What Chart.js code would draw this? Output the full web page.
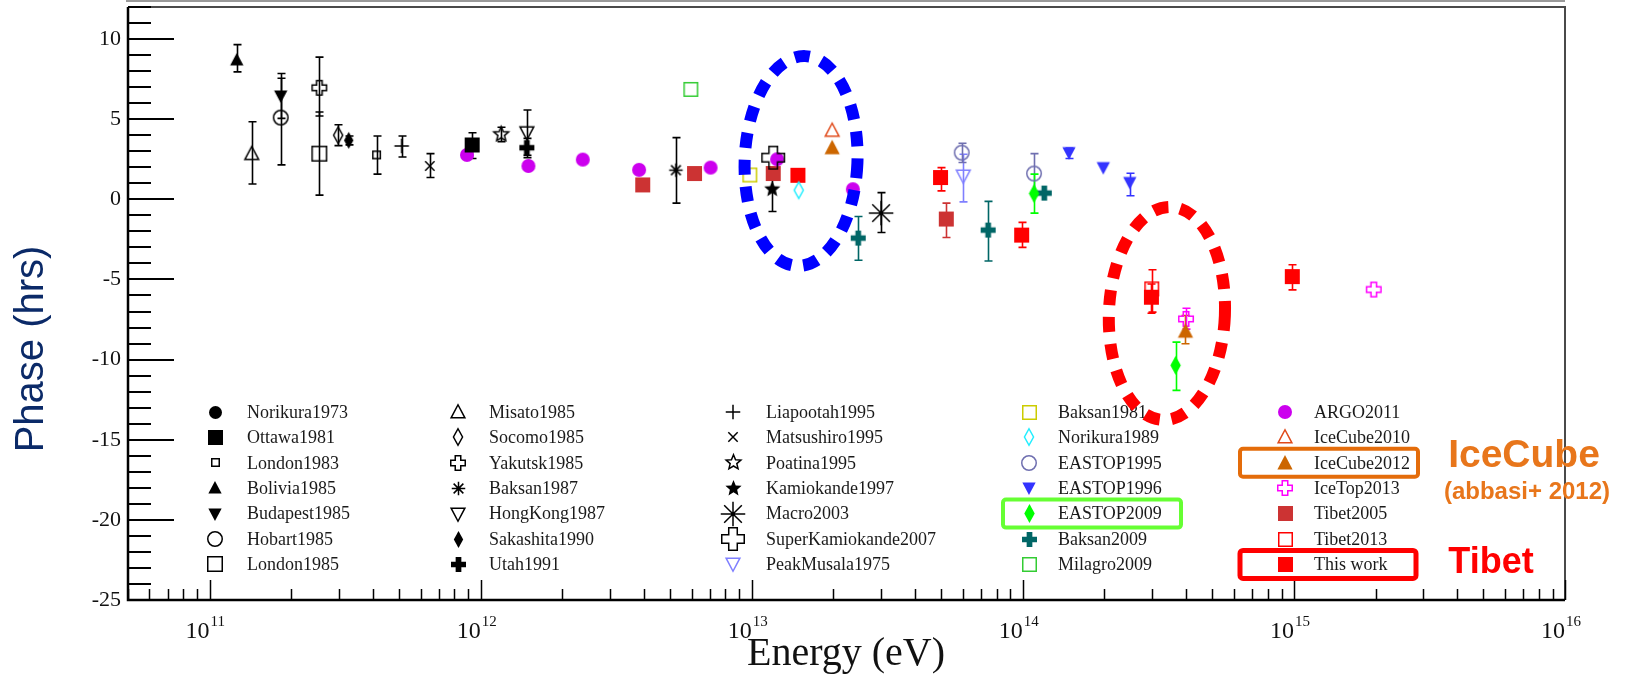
<!DOCTYPE html>
<html>
<head>
<meta charset="utf-8">
<title>Phase vs Energy</title>
<script src="https://cdn.jsdelivr.net/npm/chart.js@4.4.1/dist/chart.umd.min.js"></script>
<style>
  html, body { margin: 0; padding: 0; background: #fff; }
  #wrap { width: 1630px; height: 678px; position: relative; }
</style>
</head>
<body>
<div id="wrap"><canvas id="grafico"></canvas></div>
<script>
// ======================
// Phase of the first harmonic vs primary energy
// ======================

// Experiments, in legend order (5 columns x 7 rows)
const seriesNames = [
  "Norikura1973", "Ottawa1981", "London1983", "Bolivia1985", "Budapest1985", "Hobart1985", "London1985",
  "Misato1985", "Socomo1985", "Yakutsk1985", "Baksan1987", "HongKong1987", "Sakashita1990", "Utah1991",
  "Liapootah1995", "Matsushiro1995", "Poatina1995", "Kamiokande1997", "Macro2003", "SuperKamiokande2007", "PeakMusala1975",
  "Baksan1981", "Norikura1989", "EASTOP1995", "EASTOP1996", "EASTOP2009", "Baksan2009", "Milagro2009",
  "ARGO2011", "IceCube2010", "IceCube2012", "IceTop2013", "Tibet2005", "Tibet2013", "This work"
];

// One entry per measured point: experiment, energy (eV), phase (hrs), error bar low / high (hrs)
const pointSeries = [
  "Ottawa1981", "London1983", "Bolivia1985", "Budapest1985", "Hobart1985", "London1985",
  "Misato1985", "Socomo1985", "Yakutsk1985", "Baksan1987", "HongKong1987", "Sakashita1990", "Utah1991",
  "Liapootah1995", "Matsushiro1995", "Poatina1995", "Kamiokande1997", "Macro2003", "SuperKamiokande2007", "PeakMusala1975",
  "Baksan1981", "Norikura1989", "EASTOP1995", "EASTOP1995", "EASTOP1996", "EASTOP1996", "EASTOP1996",
  "EASTOP2009", "EASTOP2009", "Baksan2009", "Baksan2009", "Baksan2009", "Milagro2009",
  "ARGO2011", "ARGO2011", "ARGO2011", "ARGO2011", "ARGO2011", "ARGO2011", "ARGO2011",
  "IceCube2010", "IceCube2012", "IceCube2012", "IceTop2013", "IceTop2013",
  "Tibet2005", "Tibet2005", "Tibet2005", "Tibet2005", "Tibet2013",
  "This work", "This work", "This work", "This work", "This work"
];
const pointEnergy = [
  9.3e11, 4.13e11, 1.26e11, 1.83e11, 1.83e11, 2.54e11,
  1.43e11, 2.98e11, 2.54e11, 5.25e12, 1.48e12, 3.26e11, 1.48e12,
  5.11e11, 6.49e11, 1.19e12, 1.19e13, 3.0e13, 1.2e13, 6.03e13,
  9.84e12, 1.49e13, 5.95e13, 1.1e14, 1.48e14, 1.98e14, 2.48e14,
  1.1e14, 3.66e14, 2.47e13, 7.45e13, 1.2e14, 5.96e12,
  8.9e11, 1.5e12, 2.38e12, 3.84e12, 7.05e12, 1.24e13, 2.36e13,
  1.98e13, 1.98e13, 3.98e14, 4.0e14, 1.97e15,
  3.96e12, 6.15e12, 1.2e13, 5.22e13, 2.99e14,
  1.48e13, 4.97e13, 9.9e13, 2.98e14, 9.86e14
];
const pointPhase = [
  3.39, 2.77, 8.7, 6.45, 5.1, 2.85,
  2.85, 4.0, 6.96, 1.82, 4.16, 3.68, 3.22,
  3.33, 2.08, 4.06, 0.63, -0.86, 2.6, 1.46,
  1.52, 0.57, 2.91, 1.61, 2.91, 1.98, 1.05,
  0.36, -10.36, -2.42, -1.92, 0.39, 6.86,
  2.77, 2.08, 2.48, 1.84, 1.98, 2.5, 0.63,
  4.3, 3.22, -8.23, -7.46, -5.63,
  0.9, 1.61, 1.61, -1.23, -5.59,
  1.5, 1.36, -2.23, -6.11, -4.82
];
const pointErrLow = [
  2.55, 1.57, 7.95, 5.05, 2.15, 0.26,
  0.96, 3.35, 5.2, -0.24, 2.75, 3.4, 2.6,
  2.64, 1.36, 3.6, -0.76, -2.07, null, -0.16,
  null, null, 2.3, 0.4, 2.55, null, 0.22,
  -0.86, -11.92, -3.8, -3.85, null, null,
  null, null, null, null, null, null, null,
  null, null, -9.01, -8.1, null,
  null, null, null, -2.38, -7.04,
  null, 0.53, -3.0, -7.11, -5.65
];
const pointErrHigh = [
  4.15, 3.95, 9.65, 7.85, 7.55, 5.45,
  4.84, 4.65, 8.87, 3.85, 5.57, 3.95, 3.8,
  3.95, 2.85, 4.5, 2.0, 0.42, null, 2.81,
  null, null, 3.5, 2.85, 3.2, null, 1.63,
  1.57, -8.91, -1.07, -0.13, null, null,
  null, null, null, null, null, null, null,
  null, null, -7.25, -6.8, null,
  null, null, null, -0.24, -4.39,
  null, 1.98, -1.44, -5.28, -4.08
];

// Axis ticks
const yTickLabels = [-25, -20, -15, -10, -5, 0, 5, 10];
const xTickExponents = [11, 12, 13, 14, 15, 16];

// Marker look for every experiment
const markerStyles = {
  "Norikura1973":        { shape: "circle",   size: 13, color: "#000000", fill: true },
  "Ottawa1981":          { shape: "square",   size: 15, color: "#000000", fill: true },
  "London1983":          { shape: "square",   size: 9,  color: "#000000", fill: false },
  "Bolivia1985":         { shape: "triUp",    size: 14, color: "#000000", fill: true },
  "Budapest1985":        { shape: "triDown",  size: 14, color: "#000000", fill: true },
  "Hobart1985":          { shape: "circle",   size: 16, color: "#000000", fill: false },
  "London1985":          { shape: "square",   size: 16, color: "#000000", fill: false },
  "Misato1985":          { shape: "triUp",    size: 16, color: "#000000", fill: false },
  "Socomo1985":          { shape: "diamond",  size: 18, color: "#000000", fill: false },
  "Yakutsk1985":         { shape: "gcross",   size: 16, color: "#000000", fill: false },
  "Baksan1987":          { shape: "asterisk", size: 15, color: "#000000", fill: false },
  "HongKong1987":        { shape: "triDown",  size: 16, color: "#000000", fill: false },
  "Sakashita1990":       { shape: "diamond",  size: 17, color: "#000000", fill: true },
  "Utah1991":            { shape: "gcross",   size: 15, color: "#000000", fill: true },
  "Liapootah1995":       { shape: "plus",     size: 16, color: "#000000", fill: false },
  "Matsushiro1995":      { shape: "x",        size: 14, color: "#000000", fill: false },
  "Poatina1995":         { shape: "star",     size: 17, color: "#000000", fill: false },
  "Kamiokande1997":      { shape: "star",     size: 17, color: "#000000", fill: true },
  "Macro2003":           { shape: "asterisk", size: 26, color: "#000000", fill: false },
  "SuperKamiokande2007": { shape: "gcross",   size: 24, color: "#000000", fill: false },
  "PeakMusala1975":      { shape: "triDown",  size: 16, color: "#7f7fff", fill: false },
  "Baksan1981":          { shape: "square",   size: 15, color: "#cccc00", fill: false },
  "Norikura1989":        { shape: "diamond",  size: 18, color: "#22eeff", fill: false },
  "EASTOP1995":          { shape: "circle",   size: 16, color: "#6f6fb0", fill: false },
  "EASTOP1996":          { shape: "triDown",  size: 14, color: "#3333ff", fill: true },
  "EASTOP2009":          { shape: "diamond",  size: 19, color: "#00ff00", fill: true },
  "Baksan2009":          { shape: "gcross",   size: 15, color: "#006666", fill: true },
  "Milagro2009":         { shape: "square",   size: 15, color: "#33cc33", fill: false },
  "ARGO2011":            { shape: "circle",   size: 14, color: "#cc00ee", fill: true },
  "IceCube2010":         { shape: "triUp",    size: 16, color: "#e04a1a", fill: false },
  "IceCube2012":         { shape: "triUp",    size: 16, color: "#cc6600", fill: true },
  "IceTop2013":          { shape: "gcross",   size: 16, color: "#ff00ff", fill: false },
  "Tibet2005":           { shape: "square",   size: 15, color: "#cc3333", fill: true },
  "Tibet2013":           { shape: "square",   size: 15, color: "#ff0000", fill: false },
  "This work":           { shape: "square",   size: 15, color: "#ff0000", fill: true }
};

// Draw one marker into a small canvas, used as a Chart.js pointStyle and in the legend
function makeMarker(st) {
  const lw = 1.5;
  const pad = 3;
  const w = Math.ceil(st.size + pad * 2);
  const c = document.createElement("canvas");
  c.width = w;
  c.height = w;
  const ctx = c.getContext("2d");
  ctx.translate(w / 2, w / 2);
  ctx.strokeStyle = st.color;
  ctx.fillStyle = st.color;
  ctx.lineWidth = lw;
  const s = st.size / 2 - (st.fill ? 0 : lw / 2);
  ctx.beginPath();
  switch (st.shape) {
    case "circle":
      ctx.arc(0, 0, s, 0, Math.PI * 2);
      break;
    case "square":
      ctx.rect(-s, -s, 2 * s, 2 * s);
      break;
    case "triUp":
      ctx.moveTo(0, -s); ctx.lineTo(s * 0.95, s * 0.8); ctx.lineTo(-s * 0.95, s * 0.8); ctx.closePath();
      break;
    case "triDown":
      ctx.moveTo(0, s); ctx.lineTo(s * 0.95, -s * 0.8); ctx.lineTo(-s * 0.95, -s * 0.8); ctx.closePath();
      break;
    case "diamond":
      ctx.moveTo(0, -s); ctx.lineTo(s * 0.55, 0); ctx.lineTo(0, s); ctx.lineTo(-s * 0.55, 0); ctx.closePath();
      break;
    case "gcross": {
      const t = s * 0.38;
      ctx.moveTo(-t, -s); ctx.lineTo(t, -s); ctx.lineTo(t, -t); ctx.lineTo(s, -t);
      ctx.lineTo(s, t); ctx.lineTo(t, t); ctx.lineTo(t, s); ctx.lineTo(-t, s);
      ctx.lineTo(-t, t); ctx.lineTo(-s, t); ctx.lineTo(-s, -t); ctx.lineTo(-t, -t);
      ctx.closePath();
      break;
    }
    case "star":
      for (let i = 0; i < 10; i++) {
        const a = -Math.PI / 2 + i * Math.PI / 5;
        const r = i % 2 ? s * 0.45 : s;
        if (i === 0) ctx.moveTo(r * Math.cos(a), r * Math.sin(a));
        else ctx.lineTo(r * Math.cos(a), r * Math.sin(a));
      }
      ctx.closePath();
      break;
    case "plus":
      ctx.moveTo(-s, 0); ctx.lineTo(s, 0); ctx.moveTo(0, -s); ctx.lineTo(0, s);
      break;
    case "x": {
      const d = s * 0.75;
      ctx.moveTo(-d, -d); ctx.lineTo(d, d); ctx.moveTo(-d, d); ctx.lineTo(d, -d);
      break;
    }
    case "asterisk": {
      const d = s * 0.72;
      ctx.moveTo(-s, 0); ctx.lineTo(s, 0); ctx.moveTo(0, -s); ctx.lineTo(0, s);
      ctx.moveTo(-d, -d); ctx.lineTo(d, d); ctx.moveTo(-d, d); ctx.lineTo(d, -d);
      break;
    }
  }
  if (st.fill) ctx.fill();
  else ctx.stroke();
  if (st.shape === "asterisk") {
    ctx.beginPath();
    ctx.arc(0, 0, 2, 0, Math.PI * 2);
    ctx.fill();
  }
  return c;
}

// Build one scatter dataset per experiment
const datasets = seriesNames.map((name) => {
  const st = markerStyles[name];
  const data = [];
  pointSeries.forEach((s, i) => {
    if (s !== name) return;
    data.push({ x: pointEnergy[i], y: pointPhase[i], lo: pointErrLow[i], hi: pointErrHigh[i] });
  });
  return {
    label: name,
    data,
    pointStyle: makeMarker(st),
    pointRadius: 6,
    pointHoverRadius: 6,
    barColor: st.color,
    showLine: false
  };
});

// Vertical error bars with small end caps
const errorBars = {
  id: "errorBars",
  beforeDatasetsDraw(chart) {
    const { ctx, scales: { x, y } } = chart;
    chart.data.datasets.forEach((ds) => {
      ctx.save();
      ctx.strokeStyle = ds.barColor;
      ctx.lineWidth = 1.6;
      ds.data.forEach((p) => {
        if (p.lo == null) return;
        const px = Math.round(x.getPixelForValue(p.x)) + 0.5;
        const top = y.getPixelForValue(p.hi);
        const bot = y.getPixelForValue(p.lo);
        ctx.beginPath();
        ctx.moveTo(px, top); ctx.lineTo(px, bot);
        ctx.moveTo(px - 4, top); ctx.lineTo(px + 4, top);
        ctx.moveTo(px - 4, bot); ctx.lineTo(px + 4, bot);
        ctx.stroke();
      });
      ctx.restore();
    });
  }
};

// Frame, inward ticks, tick labels and axis titles
const rootAxes = {
  id: "rootAxes",
  beforeDatasetsDraw(chart) {
    const { ctx, chartArea: a, scales: { x, y } } = chart;
    ctx.save();

    // thin outer line above the frame
    ctx.strokeStyle = "#9a9a9a";
    ctx.lineWidth = 2;
    ctx.beginPath();
    ctx.moveTo(a.left - 2, 1); ctx.lineTo(a.right, 1);
    ctx.stroke();

    // top and right sides
    ctx.strokeStyle = "#4a4a4a";
    ctx.lineWidth = 2;
    ctx.beginPath();
    ctx.moveTo(a.left, a.top); ctx.lineTo(a.right, a.top); ctx.lineTo(a.right, a.bottom);
    ctx.stroke();

    // axis lines
    ctx.strokeStyle = "#000";
    ctx.lineWidth = 2.5;
    ctx.beginPath();
    ctx.moveTo(a.left, a.top); ctx.lineTo(a.left, a.bottom); ctx.lineTo(a.right, a.bottom);
    ctx.stroke();

    // y ticks: one per hour, long ones every 5
    ctx.lineWidth = 2;
    ctx.beginPath();
    for (let v = Math.ceil(y.min); v <= Math.floor(y.max); v++) {
      const py = Math.round(y.getPixelForValue(v));
      const len = v % 5 === 0 ? 46 : 23;
      ctx.moveTo(a.left, py); ctx.lineTo(a.left + len, py);
    }
    ctx.stroke();

    // x ticks: decades long, 2..9 short
    ctx.lineWidth = 1.5;
    ctx.beginPath();
    const e0 = Math.floor(Math.log10(x.min));
    const e1 = Math.ceil(Math.log10(x.max));
    for (let e = e0; e <= e1; e++) {
      for (let m = 1; m <= 9; m++) {
        const v = m * Math.pow(10, e);
        if (v < x.min * 0.999 || v > x.max * 1.001) continue;
        const px = Math.round(x.getPixelForValue(v)) + 0.5;
        const len = m === 1 ? 20 : 11;
        ctx.moveTo(px, a.bottom); ctx.lineTo(px, a.bottom - len);
      }
    }
    ctx.stroke();

    // tick labels
    ctx.fillStyle = "#111";
    ctx.font = "22px 'Liberation Serif'";
    ctx.textAlign = "right";
    ctx.textBaseline = "middle";
    yTickLabels.forEach((v) => {
      ctx.fillText(String(v), a.left - 7, y.getPixelForValue(v));
    });
    ctx.textBaseline = "alphabetic";
    xTickExponents.forEach((e) => {
      const px = x.getPixelForValue(Math.pow(10, e));
      ctx.font = "24px 'Liberation Serif'";
      ctx.textAlign = "right";
      ctx.fillText("10", px, a.bottom + 38);
      ctx.font = "15px 'Liberation Serif'";
      ctx.textAlign = "left";
      ctx.fillText(String(e), px + 1, a.bottom + 26);
    });

    // axis titles
    ctx.font = "40px 'Liberation Serif'";
    ctx.textAlign = "center";
    ctx.fillText("Energy (eV)", 846, a.bottom + 65);

    ctx.save();
    ctx.translate(32, 349);
    ctx.rotate(-Math.PI / 2);
    ctx.fillStyle = "#0b2a68";
    ctx.font = "40px 'Liberation Sans'";
    ctx.textBaseline = "middle";
    ctx.fillText("Phase (hrs)", 0, 0);
    ctx.restore();

    ctx.restore();
  }
};

// Legend grid inside the frame
const legendMarkerX = [215, 458, 733, 1029, 1285];
const legendTextX = [247, 489, 766, 1058, 1314];
const legendRowY0 = 412;
const legendRowStep = 25.4;

const rootLegend = {
  id: "rootLegend",
  afterDatasetsDraw(chart) {
    const { ctx } = chart;
    ctx.save();
    ctx.font = "18px 'Liberation Serif'";
    ctx.fillStyle = "#1a1a1a";
    ctx.textAlign = "left";
    ctx.textBaseline = "middle";
    chart.data.datasets.forEach((ds, i) => {
      const col = Math.floor(i / 7);
      const row = i % 7;
      const yy = legendRowY0 + row * legendRowStep;
      const img = ds.pointStyle;
      ctx.drawImage(img, Math.round(legendMarkerX[col] - img.width / 2), Math.round(yy - img.height / 2));
      ctx.fillText(ds.label, legendTextX[col], yy + 1);
    });
    ctx.restore();
  }
};

// Dashed rings around selected points (centre in energy / phase, half-axes in decades / hours)
const rings = [
  { color: "#0000ff", energy: 1.52e13, phase: 2.39, halfDecades: 0.208, halfHours: 6.55 },
  { color: "#ff0000", energy: 3.40e14, phase: -7.12, halfDecades: 0.214, halfHours: 6.65 }
];

// Highlight boxes on legend entries and side notes
const legendBoxes = [
  { series: "IceCube2012", color: "#e46c0a", left: 45, width: 178, lw: 4 },
  { series: "EASTOP2009", color: "#66ff33", left: 26, width: 178, lw: 4 },
  { series: "This work", color: "#ff0000", left: 45, width: 176, lw: 5 }
];
const notes = [
  { text: "IceCube", font: "bold 39px 'Liberation Sans'", color: "#e8761b", x: 1524, y: 467 },
  { text: "(abbasi+ 2012)", font: "bold 24px 'Liberation Sans'", color: "#e8761b", x: 1527, y: 499 },
  { text: "Tibet", font: "bold 36px 'Liberation Sans'", color: "#ff0000", x: 1491, y: 573 }
];

const annotations = {
  id: "annotations",
  afterDraw(chart) {
    const { ctx, scales: { x, y } } = chart;
    ctx.save();
    rings.forEach((r) => {
      const cx = x.getPixelForValue(r.energy);
      const cy = y.getPixelForValue(r.phase);
      const rx = x.getPixelForValue(r.energy * Math.pow(10, r.halfDecades)) - cx;
      const ry = cy - y.getPixelForValue(r.phase + r.halfHours);
      ctx.strokeStyle = r.color;
      ctx.lineWidth = 12;
      ctx.setLineDash([15, 12]);
      ctx.beginPath();
      ctx.ellipse(cx, cy, rx, ry, 0.04, 0, Math.PI * 2);
      ctx.stroke();
    });
    ctx.setLineDash([]);

    legendBoxes.forEach((b) => {
      const i = seriesNames.indexOf(b.series);
      const col = Math.floor(i / 7);
      const yy = legendRowY0 + (i % 7) * legendRowStep;
      ctx.strokeStyle = b.color;
      ctx.lineWidth = b.lw;
      ctx.beginPath();
      ctx.roundRect(legendMarkerX[col] - b.left, yy - 14, b.width, 28, 3);
      ctx.stroke();
    });

    ctx.textAlign = "center";
    ctx.textBaseline = "alphabetic";
    notes.forEach((n) => {
      ctx.font = n.font;
      ctx.fillStyle = n.color;
      ctx.fillText(n.text, n.x, n.y);
    });
    ctx.restore();
  }
};

new Chart(document.getElementById("grafico"), {
  type: "scatter",
  data: { datasets },
  options: {
    responsive: true,
    maintainAspectRatio: false,
    animation: false,
    layout: { padding: { left: 128, right: 65, top: 7, bottom: 78 } },
    scales: {
      x: { type: "logarithmic", min: 5e10, max: 1e16, display: false },
      y: { type: "linear", min: -25, max: 12, display: false }
    },
    plugins: {
      legend: { display: false },
      tooltip: { enabled: false }
    }
  },
  plugins: [rootAxes, errorBars, rootLegend, annotations]
});
</script>
</body>
</html>
